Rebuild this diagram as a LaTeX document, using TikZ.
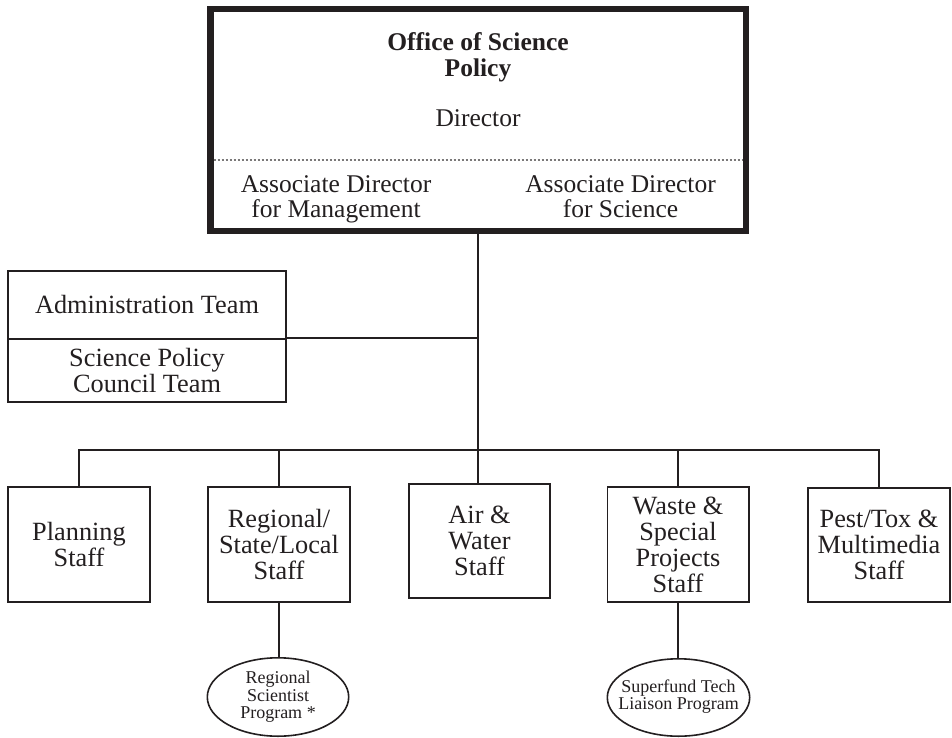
\documentclass[tikz,border=0pt]{standalone}
\usepackage{fontspec}
\setmainfont{Liberation Serif}
\usetikzlibrary{shapes.geometric}
\definecolor{ink}{RGB}{35,31,32}
\begin{document}
\begin{tikzpicture}[x=1pt,y=-1pt,
  conn/.style={draw=ink, line width=1.6pt},
  thinbox/.style={draw=ink, line width=1.6pt, inner sep=0pt, align=center,
    text=ink, font=\fontsize{26.3}{26}\selectfont},
  toptext/.style={inner sep=0pt, align=center, text=ink,
    font=\fontsize{25.5}{25}\selectfont},
  oval/.style={ellipse, draw=ink, line width=1.6pt, inner sep=0pt},
  ovaltext/.style={inner sep=0pt, align=center, text=ink,
    font=\fontsize{18}{17.5}\selectfont},
  dotline/.style={draw=ink!60, line width=1.1pt, dash pattern=on 2pt off 2pt}
]
\useasboundingbox[fill=white] (0,0) rectangle (952,738);

% top box
\node[draw=ink, line width=6.5pt, minimum width=535.5pt, minimum height=221.5pt,
  inner sep=0pt] (top) at (478,120) {};
\coordinate (dl) at (213.5,160);
\coordinate (dr) at (742.5,160);
\draw[dotline] (dl) -- (dr);
\node[toptext, font=\bfseries\fontsize{25.5}{26}\selectfont] (title) at (478,57) {Office of Science\\Policy};
\node[toptext, anchor=base] (dir) at (478,127) {Director};
\node[toptext] (adm) at (336,199.6) {Associate Director\\for Management};
\node[toptext] (ads) at (620.5,196.8) {Associate Director\\for Science};

% admin boxes
\node[thinbox, minimum width=278.4pt, minimum height=68.2pt] (admin) at (147,304.9) {Administration Team};
\node[thinbox, minimum width=278.4pt, minimum height=63.2pt] (spc) at (147,370.6) {Science Policy\\Council Team};

% bottom boxes
\node[thinbox, minimum width=142.4pt, minimum height=115.4pt] (plan) at (79,544.5) {Planning\\Staff};
\node[thinbox, minimum width=142.4pt, minimum height=115.4pt] (reg) at (279,544.5) {Regional/\\State/Local\\Staff};
\node[thinbox, minimum width=141.4pt, minimum height=114.4pt] (air) at (479.5,541) {Air \&\\Water\\Staff};
\node[thinbox, minimum width=141.4pt, minimum height=115.4pt] (waste) at (678,544.5) {Waste \&\\Special\\Projects\\Staff};
\node[thinbox, minimum width=142.4pt, minimum height=114.4pt] (pest) at (879,545) {Pest/Tox \&\\Multimedia\\Staff};

% ellipses
\node[oval, minimum width=141.4pt, minimum height=78.4pt] (rsp) at (278,697) {};
\node[ovaltext] (rsptext) at (rsp.center) {Regional\\Scientist\\Program *};
\node[oval, minimum width=142.4pt, minimum height=77.4pt] (sf) at (678.5,697.5) {};
\node[ovaltext] (sftext) at ([yshift=1pt]sf.center) {Superfund Tech\\Liaison Program};

% connectors
\coordinate (busR) at (879,450);
\draw[conn] (top.south) -- (top.south |- air.north);
\draw[conn] (spc.north east) -- (spc.north east -| top.south);
\draw[conn] (plan.north) |- (busR) -- (pest.north);
\draw[conn] (reg.north) -- (reg.north |- busR);
\draw[conn] (waste.north) -- (waste.north |- busR);
\draw[conn] (reg.south) -- (reg.south |- rsp.north);
\draw[conn] (waste.south) -- (waste.south |- sf.north);
\end{tikzpicture}
\end{document}
